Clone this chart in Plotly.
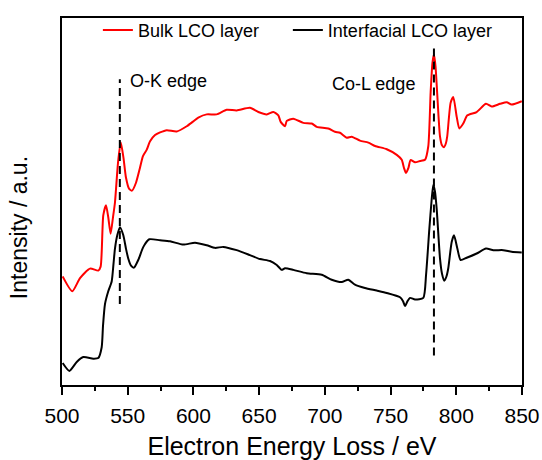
import plotly.graph_objects as go

# ---- data (energy in eV, intensity in arbitrary units) ----
bulk_ev = [500.5, 507.8, 513.7, 521.3, 527.6, 529.4, 531.4, 533.5, 535.2, 537.0, 538.8, 540.3,
           542.6, 544.7, 546.8, 548.7, 551.0, 553.3, 556.3, 559.3, 561.6, 564.4, 567.0, 570.8,
           574.6, 579.7, 587.3, 594.9, 599.7, 603.7, 610.1, 617.7, 625.3, 632.9, 643.0, 649.4,
           655.8, 660.8, 664.6, 666.4, 669.7, 671.0, 676.0, 683.6, 690.0, 693.8, 702.6, 707.7,
           711.5, 716.6, 720.4, 726.7, 733.1, 738.2, 747.1, 754.7, 758.5, 760.2, 761.7, 763.6,
           765.2, 768.6, 772.4, 776.2, 778.7, 780.5, 781.9, 783.0, 784.2, 785.5, 787.6, 789.1,
           790.6, 792.1, 793.1, 795.7, 797.7, 800.3, 802.3, 805.3, 808.4, 815.5, 822.6, 826.9,
           833.3, 838.4, 842.1, 849.8]
bulk_int = [110, 95, 108.3, 118, 116, 120, 172, 182.3, 170, 153.3, 170, 185,
            225, 246, 230, 210, 199, 197, 205, 220, 232, 238.3, 247, 253.3,
            256, 258.3, 257, 262.3, 267, 271, 274.3, 274.3, 279, 278.3, 281, 276.7,
            274.3, 276.7, 273.3, 266.7, 262.3, 267.7, 270, 265.7, 265, 261.7, 260, 256.7,
            255.7, 250.7, 251.7, 247.7, 245.7, 242.3, 239, 233.3, 228.3, 220, 215, 220,
            228, 225.7, 227, 228.3, 242, 297, 327, 335, 323, 295, 252, 243,
            241, 245, 252, 286, 292, 272, 260, 265, 273.3, 276.7, 285, 282.3,
            285, 286.7, 284.3, 287.7]

inter_ev = [500.5, 505.6, 511.2, 516.2, 523.8, 527.6, 530.2, 531.2, 532.7, 535.2, 537.8, 539.2,
            540.3, 542.1, 544.1, 546.6, 548.7, 550.4, 552.5, 554.8, 558.1, 561.9, 566.4, 574.6,
            582.2, 592.3, 601.2, 610.1, 616.4, 622.7, 632.9, 643.0, 650.6, 658.3, 663.4, 667.2,
            669.7, 676.0, 686.2, 697.6, 705.2, 712.8, 717.8, 722.9, 730.5, 739.4, 747.1, 757.2,
            759.5, 761.0, 762.9, 764.8, 768.6, 774.9, 777.0, 779.5, 781.2, 782.5, 783.8, 785.1,
            787.6, 789.1, 790.9, 792.5, 793.9, 796.5, 798.3, 800.8, 803.3, 807.9, 815.5, 822.6,
            828.2, 835.8, 842.1, 849.8]
inter_int = [22.3, 14.3, 23.3, 28.3, 26.7, 27.3, 38.3, 60, 82, 95, 105, 123,
             138.3, 152, 160, 152, 138, 128.3, 121, 119, 127, 140, 147.7, 146.7,
             145.7, 142.3, 144.3, 141.7, 139, 140, 136.7, 131.7, 127.7, 125.7, 121.7, 116.7,
             118.3, 116.7, 113.3, 111.7, 106.7, 104.3, 106.7, 101.7, 98.3, 95.7, 93.3, 89,
             85, 80, 85, 88.3, 86.7, 88.3, 111.7, 158.3, 187, 203, 196, 178.3,
             128.3, 113, 105.7, 110, 118.3, 145, 151.7, 138.3, 126.7, 129, 133.3, 138.3,
             136.7, 136.7, 135, 134.3]

# edge markers
edge_ev = [544, 783]
edge_top = [310, 345]
edge_bottom = [82, 30]
edge_labels = ["O-K edge", "Co-L edge"]
label_ev = [550.5, 703.8]
label_int = [308, 305]

x_ticks = [500, 550, 600, 650, 700, 750, 800, 850]

FONT = "Liberation Sans, Arial, sans-serif"

fig = go.Figure()
fig.add_trace(go.Scatter(x=bulk_ev, y=bulk_int, mode="lines", name="Bulk LCO layer",
                         legend="legend",
                         line=dict(color="#ff0000", width=2, shape="spline", smoothing=0.6)))
fig.add_trace(go.Scatter(x=inter_ev, y=inter_int, mode="lines", name="Interfacial LCO layer",
                         legend="legend2",
                         line=dict(color="#000000", width=2, shape="spline", smoothing=0.6)))

for ev, top, bot in zip(edge_ev, edge_top, edge_bottom):
    fig.add_trace(go.Scatter(x=[ev, ev], y=[bot, top], mode="lines", showlegend=False,
                             hoverinfo="skip",
                             line=dict(color="#000000", width=2, dash="8px,5px")))

for txt, ev, iv in zip(edge_labels, label_ev, label_int):
    fig.add_annotation(x=ev, y=iv, text=txt, showarrow=False, xanchor="left", yanchor="middle",
                       font=dict(family=FONT, size=18, color="#000000"))

fig.add_annotation(xref="paper", yref="paper", x=-0.093, y=0.428, text="Intensity / a.u.",
                   textangle=-90, showarrow=False, xanchor="center", yanchor="middle",
                   font=dict(family=FONT, size=23, color="#000000"))

leg_common = dict(orientation="h", yanchor="top", xanchor="left", y=1.017,
                  bgcolor="rgba(0,0,0,0)", font=dict(family=FONT, size=18))

fig.update_layout(
    width=542, height=460,
    margin=dict(l=62, r=20, t=13, b=75),
    paper_bgcolor="white", plot_bgcolor="white",
    font=dict(family=FONT, color="#000000"),
    showlegend=True,
    legend=dict(x=0.078, **leg_common),
    legend2=dict(x=0.491, **leg_common),
    xaxis=dict(range=[500, 850], tickvals=x_ticks, ticks="outside", ticklen=8, tickwidth=1.5,
               tickcolor="#000000", showline=True, linewidth=2, linecolor="#000000",
               mirror=True, showgrid=False, zeroline=False, automargin=False,
               tickfont=dict(family=FONT, size=21), ticklabelstandoff=3,
               minor=dict(dtick=25, tick0=500, ticks="outside", ticklen=4, tickwidth=1.5,
                          tickcolor="#000000", showgrid=False),
               title=dict(text="Electron Energy Loss / eV", font=dict(family=FONT, size=25),
                          standoff=23)),
    yaxis=dict(range=[0, 372], showticklabels=False, ticks="", showline=True, linewidth=2,
               linecolor="#000000", mirror=True, showgrid=False, zeroline=False,
               automargin=False),
)

fig.write_html("out.html")
